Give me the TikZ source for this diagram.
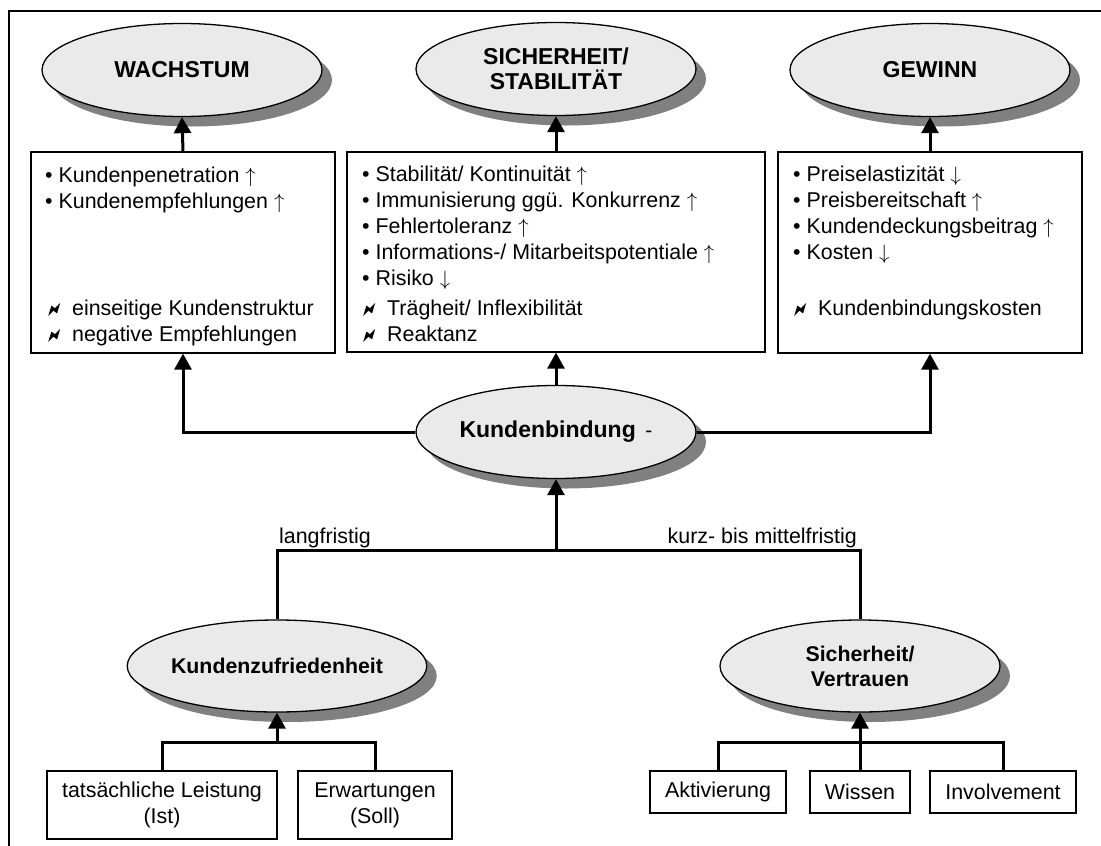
\documentclass[tikz,border=0pt]{standalone}
\usepackage{fontspec}
\setmainfont{Liberation Sans}
\usetikzlibrary{shapes.geometric,shadows,arrows.meta}
\definecolor{ovalfill}{HTML}{EAEAEA}
\definecolor{shadowgray}{HTML}{808080}
\newcommand\normalfnt{\fontsize{21.4}{26}\selectfont}
\newcommand\bigbold{\fontsize{23}{25}\selectfont\bfseries}
\newcommand\smallbold{\fontsize{21.3}{25}\selectfont\bfseries}
\newcommand\blitz{\tikz[baseline=0pt,x=1pt,y=1pt]\fill[black] (0,-1) -- (3.2,9.4) -- (6.8,6.8) -- (12,12.2) -- (8.9,1.6) -- (5.3,4.3) -- cycle;\hspace{12pt}}
\newcommand\up{\ensuremath{\uparrow}}
\newcommand\down{\ensuremath{\downarrow}}
\tikzset{
  oval/.style={ellipse, draw, line width=1.3pt, fill=ovalfill, minimum width=280pt,
    minimum height=93pt, inner sep=0pt, align=center,
    general shadow={fill=shadowgray, shadow xshift=10pt, shadow yshift=-10pt}},
  topoval/.style={oval, font=\bigbold},
  lowoval/.style={oval, minimum height=92pt, font=\smallbold},
  box/.style={draw, line width=1.3pt, inner sep=0pt, align=center, font=\normalfnt},
  line/.style={anchor=base west, inner sep=0pt, font=\normalfnt},
  conn/.style={line width=3pt},
  arr/.style={conn, -{Triangle[length=16pt,width=17pt]}},
  lbl/.style={inner sep=0pt, font=\normalfnt}
}
\begin{document}
\begin{tikzpicture}[x=1pt,y=-1pt,line join=miter]
\useasboundingbox (0,0) rectangle (1101,846);
\clip (0,0) rectangle (1101,846);
\fill[white] (0,0) rectangle (1101,846);
\draw[line width=1.3pt] (9,900) -- (9,11) -- (1200,11);

% top ellipses
\node[topoval] (wachstum) at (182,70) {WACHSTUM};
\node[topoval] (sicher) at (556,69) {SICHERHEIT/\\STABILITÄT};
\node[topoval] (gewinn) at (930,70) {GEWINN};

% boxes
\node[box, minimum width=304pt, minimum height=201pt] (box1) at (183,252.5) {};
\node[box, minimum width=418pt, minimum height=200pt] (box2) at (556,252) {};
\node[box, minimum width=304pt, minimum height=201pt] (box3) at (930,252.5) {};

\node[line] (b1a) at (45,182) {• Kundenpenetration \up};
\node[line] (b1b) at (45,208) {• Kundenempfehlungen \up};
\node[line] (b1c) at (48,315) {\blitz einseitige Kundenstruktur};
\node[line] (b1d) at (48,341) {\blitz negative Empfehlungen};

\node[line] (b2a) at (362,181) {• Stabilität/ Kontinuität \up};
\node[line] (b2b) at (362,207) {• Immunisierung ggü. Konkurrenz \up};
\node[line] (b2c) at (362,233) {• Fehlertoleranz \up};
\node[line] (b2d) at (362,259) {• Informations-/ Mitarbeitspotentiale \up};
\node[line] (b2e) at (362,285) {• Risiko \down};
\node[line] (b2f) at (363,315) {\blitz Trägheit/ Inflexibilität};
\node[line] (b2g) at (363,341) {\blitz Reaktanz};

\node[line] (b3a) at (793,181) {• Preiselastizität \down};
\node[line] (b3b) at (793,207) {• Preisbereitschaft \up};
\node[line] (b3c) at (793,233) {• Kundendeckungsbeitrag \up};
\node[line] (b3d) at (793,259) {• Kosten \down};
\node[line] (b3e) at (794,315) {\blitz Kundenbindungskosten};

% central ellipse
\node[topoval] (kb) at (556,432) {Kundenbindung\,\mdseries\fontsize{21}{25}\selectfont\ -};

% lower ellipses
\node[lowoval] (kz) at (277,666) {Kundenzufriedenheit};
\node[lowoval] (sv) at (860,666) {Sicherheit/\\Vertrauen};

% bottom boxes
\node[box, minimum width=230pt, minimum height=68pt] (ist) at (162,805) {tatsächliche Leistung\\(Ist)};
\node[box, minimum width=154pt, minimum height=68pt] (soll) at (375,805) {Erwartungen\\(Soll)};
\node[box, minimum width=136pt, minimum height=42pt] (akt) at (718,792) {Aktivierung};
\node[box, minimum width=100pt, minimum height=42pt] (wis) at (860,792) {Wissen};
\node[box, minimum width=146pt, minimum height=42pt] (inv) at (1003,792) {Involvement};

% connectors top
\draw[arr] (box1.north) -- (wachstum.south);
\draw[arr] (box2.north) -- (sicher.south);
\draw[arr] (box3.north) -- (gewinn.south);
\draw[arr] (kb.north) -- (box2.south);
\draw[arr] (kb.west) -| (box1.south);
\draw[arr] (kb.east) -| (box3.south);

% connectors middle
\coordinate (jm) at (556,550);
\coordinate (jl) at (277,550);
\coordinate (jr) at (860,550);
\draw[conn] (kz.north) -- (jl) -- (jr) -- (sv.north);
\draw[arr] (jm) -- (kb.south);
\node[lbl, anchor=base west] (lang) at (279,543) {langfristig};
\node[lbl, anchor=base east] (kurz) at (857,543) {kurz- bis mittelfristig};

% connectors bottom
\coordinate (kzj) at (277,742);
\coordinate (svj) at (860,742);
\draw[conn] (ist.north) -- (ist.north |- kzj) -- (soll.north |- kzj) -- (soll.north);
\draw[arr] (kzj) -- (kz.south);
\draw[conn] (akt.north) -- (akt.north |- svj) -- (inv.north |- svj) -- (inv.north);
\draw[arr] (wis.north) -- (sv.south);
\end{tikzpicture}
\end{document}
